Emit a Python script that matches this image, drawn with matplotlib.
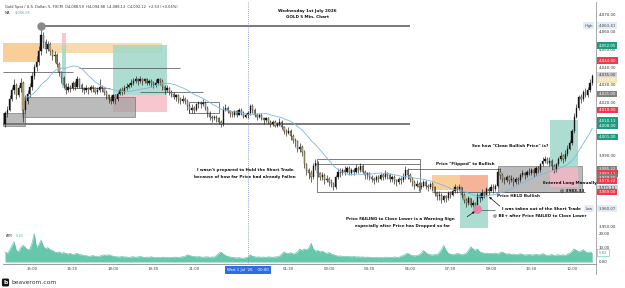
import numpy as np
import pandas as pd
import matplotlib
matplotlib.use("Agg")
import matplotlib.pyplot as plt
from matplotlib.patches import Rectangle
from matplotlib.transforms import blended_transform_factory

# Gold spot, 5 min candles, 14:00 Tue -> 12:45 Wed (x = candle number)
OPEN0 = 4008.0
CLOSE = [
    4014, 4016, 4022, 4027, 4030, 4024, 4028, 4031, 4016, 4021, 4025, 4029, 4035, 4040, 4043, 4049, 4058, 4054,
    4050, 4053, 4049, 4046, 4047, 4042, 4037, 4034, 4030, 4027, 4029, 4028, 4031, 4029, 4033, 4030, 4028, 4027,
    4028, 4027, 4029, 4028, 4026, 4027, 4029, 4028, 4026, 4024, 4022, 4021, 4024, 4022, 4025, 4027, 4026, 4028,
    4029, 4030, 4031, 4032, 4033, 4032, 4033, 4032, 4033, 4031, 4032, 4031, 4030, 4031, 4033, 4032, 4029, 4027,
    4028, 4026, 4025, 4023, 4024, 4022, 4021, 4022, 4021, 4018, 4016, 4017, 4016, 4019, 4020, 4019, 4020, 4017,
    4014, 4012, 4011, 4012, 4011, 4009, 4008, 4016, 4017, 4015, 4014, 4013, 4015, 4013, 4016, 4014, 4012, 4013,
    4014, 4018, 4016, 4013, 4012, 4013, 4011, 4010, 4011, 4009, 4008, 4009, 4007, 4008, 4009, 4006, 4004, 4003,
    4004, 4001, 3999, 3998, 3994, 3995, 3992, 3985, 3982, 3980, 3978, 3984, 3986, 3980, 3978, 3979, 3976, 3977,
    3975, 3974, 3972, 3978, 3981, 3980, 3982, 3981, 3983, 3980, 3982, 3981, 3983, 3982, 3984, 3981, 3979, 3980,
    3978, 3977, 3976, 3978, 3977, 3979, 3978, 3980, 3979, 3977, 3978, 3976, 3975, 3977, 3976, 3978, 3982, 3979,
    3977, 3975, 3973, 3974, 3972, 3973, 3975, 3973, 3972, 3974, 3972, 3969, 3967, 3968, 3965, 3967, 3966, 3969,
    3968, 3970, 3972, 3971, 3972, 3968, 3965, 3963, 3966, 3962, 3963, 3962, 3968, 3966, 3969, 3968, 3971, 3970,
    3972, 3971, 3973, 3981, 3979, 3977, 3976, 3978, 3976, 3977, 3975, 3977, 3976, 3979, 3980, 3979, 3981, 3980,
    3982, 3980, 3983, 3982, 3985, 3987, 3988, 3986, 3987, 3984, 3982, 3985, 3988, 3990, 3988, 3991, 3994, 3997,
    4004, 4012, 4017, 4023, 4022, 4026, 4024, 4027, 4031, 4035,
]
HIGH = [
    4015, 4018, 4024, 4029, 4033, 4031, 4030, 4034, 4032, 4024, 4027, 4031, 4037, 4042, 4046, 4052, 4063.41, 4060,
    4056, 4055, 4054, 4050, 4049, 4048, 4043, 4038, 4035, 4031, 4031, 4030, 4032, 4032, 4035, 4034, 4031, 4029,
    4030, 4029, 4030, 4030, 4029, 4029, 4033, 4030, 4029, 4027, 4025, 4024, 4025, 4025, 4026, 4028, 4029, 4030,
    4031, 4031, 4033, 4034, 4035, 4034, 4035, 4034, 4034, 4034, 4033, 4033, 4032, 4033, 4034, 4034, 4033, 4030,
    4030, 4029, 4027, 4026, 4025, 4025, 4023, 4024, 4023, 4022, 4019, 4019, 4018, 4020, 4021, 4021, 4022, 4021,
    4018, 4015, 4013, 4013, 4013, 4012, 4010, 4018, 4019, 4018, 4016, 4015, 4016, 4016, 4017, 4017, 4015, 4014,
    4015, 4019, 4019, 4017, 4014, 4014, 4014, 4012, 4012, 4012, 4010, 4010, 4010, 4009, 4011, 4010, 4007, 4005,
    4006, 4005, 4002, 4000, 3999, 3997, 3996, 3993, 3986, 3983, 3982, 3986, 3988, 3987, 3981, 3981, 3980, 3979,
    3978, 3977, 3975, 3979, 3983, 3983, 3983, 3984, 3984, 3984, 3983, 3983, 3985, 3984, 3986, 3985, 3982, 3981,
    3981, 3979, 3978, 3979, 3979, 3980, 3980, 3982, 3981, 3980, 3979, 3979, 3977, 3978, 3978, 3980, 3984, 3983,
    3980, 3978, 3976, 3976, 3975, 3975, 3976, 3976, 3974, 3975, 3975, 3973, 3970, 3970, 3969, 3968, 3968, 3970,
    3970, 3971, 3974, 3973, 3974, 3972, 3969, 3966, 3967, 3966, 3965, 3964, 3969, 3969, 3971, 3970, 3972, 3972,
    3974, 3974, 3974, 3983, 3983, 3980, 3978, 3979, 3979, 3979, 3978, 3978, 3978, 3980, 3982, 3981, 3982, 3983,
    3983, 3983, 3984, 3984, 3986, 3989, 3990, 3989, 3989, 3988, 3985, 3986, 3989, 3992, 3991, 3993, 3996, 3999,
    4005, 4014, 4019, 4024, 4025, 4027, 4028, 4029, 4033, 4036,
]
LOW = [
    4006, 4012, 4015, 4021, 4025, 4022, 4023, 4026, 4009, 4014, 4019, 4023, 4027, 4033, 4038, 4041, 4047, 4051,
    4048, 4049, 4047, 4044, 4043, 4040, 4035, 4031, 4028, 4025, 4026, 4026, 4027, 4027, 4028, 4028, 4026, 4025,
    4026, 4025, 4026, 4026, 4025, 4025, 4026, 4026, 4024, 4022, 4020, 4019, 4020, 4019, 4021, 4024, 4024, 4025,
    4027, 4028, 4029, 4030, 4031, 4030, 4031, 4030, 4031, 4030, 4030, 4029, 4028, 4029, 4030, 4030, 4027, 4025,
    4026, 4024, 4023, 4022, 4021, 4020, 4019, 4020, 4019, 4016, 4014, 4014, 4014, 4015, 4017, 4017, 4018, 4016,
    4012, 4010, 4009, 4010, 4009, 4008, 4006, 4007, 4015, 4014, 4012, 4012, 4012, 4012, 4013, 4013, 4011, 4011,
    4011, 4013, 4014, 4012, 4010, 4011, 4010, 4008, 4009, 4008, 4006, 4007, 4006, 4006, 4007, 4005, 4002, 4001,
    4002, 3999, 3997, 3995, 3992, 3992, 3990, 3983, 3979, 3977, 3975, 3977, 3982, 3978, 3976, 3976, 3974, 3975,
    3973, 3972, 3970.5, 3971, 3977, 3978, 3979, 3979, 3980, 3979, 3979, 3979, 3980, 3980, 3981, 3980, 3977, 3977,
    3976, 3975, 3974, 3975, 3975, 3976, 3976, 3977, 3977, 3975, 3975, 3974, 3973, 3974, 3974, 3975, 3977, 3977,
    3975, 3973, 3971, 3972, 3970, 3971, 3972, 3971, 3970, 3971, 3970, 3967, 3965, 3965, 3963, 3964, 3964, 3965,
    3966, 3967, 3969, 3969, 3970, 3966, 3963, 3961, 3962, 3961, 3961, 3960.5, 3960.07, 3964, 3965, 3966, 3967, 3968,
    3970, 3969, 3970, 3972, 3977, 3975, 3974, 3975, 3974, 3975, 3973, 3974, 3974, 3975, 3978, 3977, 3978, 3979,
    3979, 3978, 3979, 3980, 3981, 3984, 3986, 3985, 3984, 3982, 3980, 3981, 3984, 3987, 3986, 3987, 3990, 3993,
    3996, 4003, 4011, 4016, 4020, 4021, 4023, 4023, 4026, 4030,
]
ATR = [
    7, 6, 8, 11, 14, 8, 7, 10, 11.5, 10, 8.5, 9, 13, 19.5, 10, 12, 15, 11,
    9, 10, 8.5, 8, 7, 6.5, 7, 6, 6.5, 6, 5.5, 6, 5, 5.5, 6, 5, 5, 4.5,
    4.5, 4, 4, 4.5, 4, 3.8, 4, 4.5, 5, 4.5, 5, 4.5, 4, 3.8, 3.5, 3.5, 3.8, 3.5,
    3.5, 3.2, 3.5, 3.6, 3.3, 3.5, 3.8, 3.5, 3.2, 3.4, 3.3, 3.6, 3.2, 3, 3.3, 3.1, 3.4, 3.2,
    3.2, 3, 3.3, 3.2, 3.5, 3.1, 3.4, 3.6, 4, 5, 4.5, 4, 3.8, 3.5, 3.8, 3.5, 3.3, 3.5,
    3.6, 3.3, 3.5, 3.4, 4.5, 6, 7, 5.5, 4.5, 3.8, 3.5, 3.2, 3, 2.8, 3, 2.7, 2.6, 3,
    3.5, 5, 4, 3.6, 3.4, 3.5, 3.3, 3.5, 3.2, 3.6, 3.4, 3.3, 3.5, 3.6, 4, 5.5, 7, 6,
    6, 6.5, 5.5, 6, 7, 9, 8, 9, 8.5, 9.5, 13, 9, 7.5, 8, 7, 7.5, 6.5, 6,
    6.5, 5.5, 5, 4.5, 4, 4.2, 4, 3.8, 4, 3.7, 3.6, 3.8, 3.5, 3.6, 3.4, 3.5, 3.3, 3.4,
    3.3, 3.2, 3.1, 3.3, 3, 3.2, 3, 3.4, 3.3, 3.1, 3.2, 3.5, 3.3, 3.2, 4, 4.5, 5.5, 6,
    5, 4.5, 4.2, 4.5, 5, 6, 8, 6.5, 5.5, 5, 4.8, 5.2, 5, 6.5, 8.5, 11.5, 8, 6,
    5.5, 5, 5.3, 6, 5.5, 5, 5.5, 6, 8, 10.5, 9, 8, 9, 7, 6.5, 6, 6.2, 5.8,
    6, 5.8, 6.2, 5.5, 6.5, 7, 6, 5.5, 5.8, 5.2, 5.5, 5, 5.3, 5.8, 5.2, 4.8, 5, 5.2,
    4.8, 5, 5.5, 4.8, 5.2, 5.8, 5, 4.6, 4.8, 5.2, 4.5, 4.8, 5, 4.6, 5, 4.5, 5.5, 6,
    7.5, 9, 8, 7, 7.5, 8.5, 7, 6.5, 7, 6,
]

TIME_TICKS = [12, 30, 48, 66, 84, 126, 144, 162, 180, 198, 216, 234, 252]
TIME_LABELS = ["15:00", "16:30", "18:00", "19:30", "21:00", "01:30", "03:00",
               "04:30", "06:00", "07:30", "09:00", "10:30", "12:00"]
DAY_START = 108
PRICE_TICKS = [4070, 4060, 4050, 4040, 4030, 4020, 3990, 3950]

# price scale tags: text, where it sits, style
TAG_TEXT = ["4,063.41", "4,052.05", "4,044.00", "4,035.00", "4,032.36", "4,025.00", "4,018.00",
            "4,010.13", "4,008.00", "4,001.00", "3,985.22", "3,983.11", "3,979.50", "3,976.22",
            "3,971.11", "3,969.00", "3,960.07"]
TAG_AT = [4063.41, 4052.1, 4043.6, 4035.5, 4032.7, 4024.8, 4015.8, 4009.7, 4006.7, 4000.5,
          3982.4, 3979.8, 3977.5, 3975.6, 3971.7, 3969.4, 3960.07]
TAG_KIND = ["hl", "green", "red", "light", "cream", "gray", "red", "green", "green", "green",
            "gray", "red", "gray", "red", "light", "red", "hl"]

# drawn zones: candle span, price span, kind
ZONE_X = [(-1, 15.5), (21, 70), (48, 72), (48, 72), (25.3, 27.1), (25.3, 27.1), (7.6, 57.8),
          (-1, 8.9), (189.8, 202.2), (202.2, 214.7), (202.2, 214.7), (219.1, 256.4),
          (242.2, 254.7), (242.2, 254.7)]
ZONE_P = [(4043, 4053.5), (4048, 4053.5), (4024.2, 4052.5), (4014.6, 4024.2), (4028, 4052.5),
          (4052.5, 4059), (4011.8, 4023.1), (4006.7, 4014.1), (3970.6, 3979), (3969.4, 3979),
          (3949, 3969.4), (3969.4, 3984.1), (3983, 4010.1), (3972, 3983)]
ZONE_KIND = ["orange", "orange2", "teal", "pink", "teal", "pink", "gray", "gray", "orange",
             "salmon", "teal", "gray", "teal", "pink"]

# drawn horizontal levels: candle span, price, heavy?
LEVEL_X = [(16, 180), (-1, 180), (-1, 30), (33, 78), (28, 46.7), (60, 88), (137.8, 184.4),
           (179, 220), (190, 258), (211, 218)]
LEVEL_P = [4063.2, 4008, 4037.4, 4039.6, 4028.2, 4025.9, 3985.3, 3982.4, 3969.4, 3959.3]
LEVEL_HEAVY = [True, True, False, False, False, False, False, False, False, False]
BOX_X = [(82, 95), (138.7, 184.4)]
BOX_P = [(4014, 4020.3), (3969.4, 3988)]

ZONE_COLORS = {"orange": ("#f8c27e", 0.8), "orange2": ("#f9cd92", 0.75), "teal": ("#9fd8c9", 0.85),
               "pink": ("#f5b8c4", 0.8), "gray": ("#9e9e9e", 0.7), "salmon": ("#f4a07e", 0.8)}
TAG_COLORS = {"green": ("#1f9c80", "white"), "red": ("#ef3b4c", "white"), "gray": ("#808080", "white"),
              "light": ("#d3d3d3", "#333333"), "cream": ("#f4e3b3", "white"), "hl": ("#e4ecf7", "#444444")}


def main():
    c = np.array(CLOSE, float)
    o = np.r_[OPEN0, c[:-1]]
    h = np.array(HIGH, float)
    l = np.array(LOW, float)
    x = np.arange(len(c))
    ma = pd.Series(c).rolling(20, min_periods=10).mean()

    fig = plt.figure(figsize=(6.25, 2.88), dpi=100)
    ax = fig.add_axes([3 / 625, 1 - 230 / 288, 593 / 625, 228 / 288])
    ax2 = fig.add_axes([3 / 625, 1 - 264 / 288, 593 / 625, 34 / 288], sharex=ax)

    for (i0, i1), (p0, p1), k in zip(ZONE_X, ZONE_P, ZONE_KIND):
        col, a = ZONE_COLORS[k]
        ec = "#555555" if k == "gray" else "none"
        ax.add_patch(Rectangle((i0, p0), i1 - i0, p1 - p0, facecolor=col, alpha=a,
                               edgecolor=ec, linewidth=0.5, zorder=1))
    for (i0, i1), p, heavy in zip(LEVEL_X, LEVEL_P, LEVEL_HEAVY):
        ax.hlines(p, i0, i1, color="#707070" if heavy else "#4a4a4a",
                  lw=1.3 if heavy else 0.5, zorder=2)
    for (i0, i1), (p0, p1) in zip(BOX_X, BOX_P):
        ax.add_patch(Rectangle((i0, p0), i1 - i0, p1 - p0, facecolor="none",
                               edgecolor="#4a4a4a", linewidth=0.5, zorder=2))

    up = c >= o
    ax.vlines(x, l, h, color="#1a1a1a", lw=0.45, zorder=4)
    ax.bar(x, np.maximum(np.abs(c - o), 0.35), 0.62, bottom=np.minimum(o, c),
           color=np.where(up, "#111111", "#ccb677"), edgecolor="#1a1a1a", linewidth=0.25, zorder=5)
    ax.plot(x, ma, color="#7db7e6", lw=0.6, zorder=6)

    ax.plot(16, 4063.2, "o", ms=5, color="#8a8a8a", zorder=7)
    ax.plot(210, 3960.0, "o", ms=5.5, color="#e884a8", zorder=7)

    ax.set_xlim(-0.89, 262.67)
    ax.set_ylim(3947.97, 4076.78)
    ax2.set_ylim(-1.38, 22.07)

    for a in (ax, ax2):
        a.yaxis.tick_right()
        a.tick_params(axis="y", length=0, pad=2, labelsize=2.8, labelcolor="#333333")
        for s in ("left", "top"):
            a.spines[s].set_visible(False)
        a.spines["right"].set_color("#9a9a9a")
        a.spines["right"].set_linewidth(0.6)
        a.axvline(DAY_START, color="#6f86d6", lw=0.6, ls=(0, (1, 1.5)), zorder=3)
    ax.spines["bottom"].set_color("#e0e0e0")
    ax.spines["bottom"].set_linewidth(0.5)
    ax2.spines["bottom"].set_color("#8c8c8c")
    ax2.spines["bottom"].set_linewidth(0.6)
    ax.set_yticks(PRICE_TICKS)
    ax.set_yticklabels([f"{p:,.2f}" for p in PRICE_TICKS])
    ax.tick_params(axis="x", length=0, labelbottom=False)
    ax2.set_yticks([0, 10, 20])
    ax2.set_yticklabels(["0.00", "10.00", "20.00"])
    ax2.set_xticks(TIME_TICKS)
    ax2.set_xticklabels(TIME_LABELS)
    ax2.tick_params(axis="x", length=0, pad=2.5, labelsize=2.8, labelcolor="#444444")

    # ATR pane
    ax2.fill_between(x, 0, ATR, color="#66c7ab", lw=0, zorder=2)
    ax2.plot(x, ATR, color="#4dbb9b", lw=0.4, zorder=3)

    # price scale tags
    tr = blended_transform_factory(ax.transAxes, ax.transData)
    for t, p, k in zip(TAG_TEXT, TAG_AT, TAG_KIND):
        fc, tc = TAG_COLORS[k]
        ax.text(1.0045, p, t, transform=tr, ha="left", va="center", fontsize=2.8, color=tc,
                zorder=10, clip_on=False,
                bbox=dict(boxstyle="square,pad=0.35", fc=fc, ec="none"))
    for p, t in ((4063.41, "High"), (3960.07, "Low")):
        ax.text(0.988, p, t, transform=tr, ha="center", va="center", fontsize=2.6, color="#444444",
                zorder=10, bbox=dict(boxstyle="square,pad=0.35", fc="#e4ecf7", ec="none"))
    tr2 = blended_transform_factory(ax2.transAxes, ax2.transData)
    ax2.text(1.0045, 6.4, "5.82", transform=tr2, ha="left", va="center", fontsize=2.8,
             color="#3aa886", clip_on=False, zorder=10,
             bbox=dict(boxstyle="square,pad=0.35", fc="white", ec="#5cc3a4", lw=0.4))

    # notes
    note = dict(fontsize=3.0, color="#111111", ha="center", va="center", zorder=9, fontweight="bold")
    ax.text(106.7, 3981.9, "I wasn't prepared to Hold the Short Trade", **note)
    ax.text(106.7, 3977.9, "because of how far Price had already Fallen", **note)
    ax.text(175.6, 3954.2, "Price FAILING to Close Lower is a Warning Sign", **note)
    ax.text(176.5, 3950.3, "especially after Price has Dropped so far", **note)
    ax.text(238.2, 3959.8, "I was taken out of the Short Trade", **note)
    ax.text(237.8, 3956.3, "@ BE+ after Price FAILED to Close Lower", **note)
    ax.text(228.2, 3967.4, "Price HELD Bullish", **note)
    ax.text(204.4, 3985.1, "Price \"Flipped\" to Bullish", **note)
    ax.text(224.4, 3995.4, "See how \"Clean Bullish Price\" is?", **note)
    ax.text(251.1, 3974.3, "Entered Long Manually", **note)
    ax.text(252.0, 3970.5, "@ 3983.33", **note)
    arrow = dict(arrowstyle="-|>", lw=0.5, color="#111111", mutation_scale=3)
    ax.annotate("", xy=(209.8, 3959.3), xytext=(204.4, 3954.6), arrowprops=arrow, zorder=9)
    ax.annotate("", xy=(214.2, 3967.7), xytext=(220.9, 3960.4), arrowprops=arrow, zorder=9)

    # header texts
    fig.text(5 / 625, 1 - 7 / 288,
             "Gold Spot / U.S. Dollar, 5, FXCM  O4,088.59  H4,094.88  L4,088.13  C4,092.12  +2.53 (+0.06%)",
             fontsize=2.6, color="#333333", va="center")
    fig.text(5 / 625, 1 - 13 / 288, "MA", fontsize=2.6, color="#333333", va="center")
    fig.text(15 / 625, 1 - 13 / 288, "4,086.65", fontsize=2.6, color="#5aa6e0", va="center")
    fig.text(307 / 625, 1 - 11 / 288, "Wednesday 1st July 2026", fontsize=3.0, fontweight="bold",
             color="#111111", ha="center", va="center")
    fig.text(307 / 625, 1 - 17.5 / 288, "GOLD 5 Min. Chart", fontsize=3.0, fontweight="bold",
             color="#111111", ha="center", va="center")
    fig.text(6 / 625, 1 - 236 / 288, "ATR", fontsize=2.6, color="#333333", va="center")
    fig.text(16 / 625, 1 - 236 / 288, "5.82", fontsize=2.6, color="#5cc3a4", va="center")
    fig.text(248 / 625, 1 - 270 / 288, "Wed 1 Jul '26    00:00", fontsize=2.8, color="white",
             ha="center", va="center",
             bbox=dict(boxstyle="square,pad=0.6", fc="#2f6bf0", ec="none"))
    fig.add_artist(plt.Line2D([596 / 625, 596 / 625], [1 - 274 / 288, 1 - 264 / 288],
                              color="#9a9a9a", lw=0.6))

    # logo
    fig.text(5.5 / 625, 1 - 282.5 / 288, "b", fontsize=4.2, fontweight="bold", color="white",
             ha="center", va="center", bbox=dict(boxstyle="round,pad=0.25", fc="#131313", ec="none"))
    fig.text(11 / 625, 1 - 282.5 / 288, "beaverom.com", fontsize=4.3, color="#333333", va="center")

    fig.savefig("out.png", dpi=100, facecolor="white")
    plt.close(fig)


if __name__ == "__main__":
    main()
